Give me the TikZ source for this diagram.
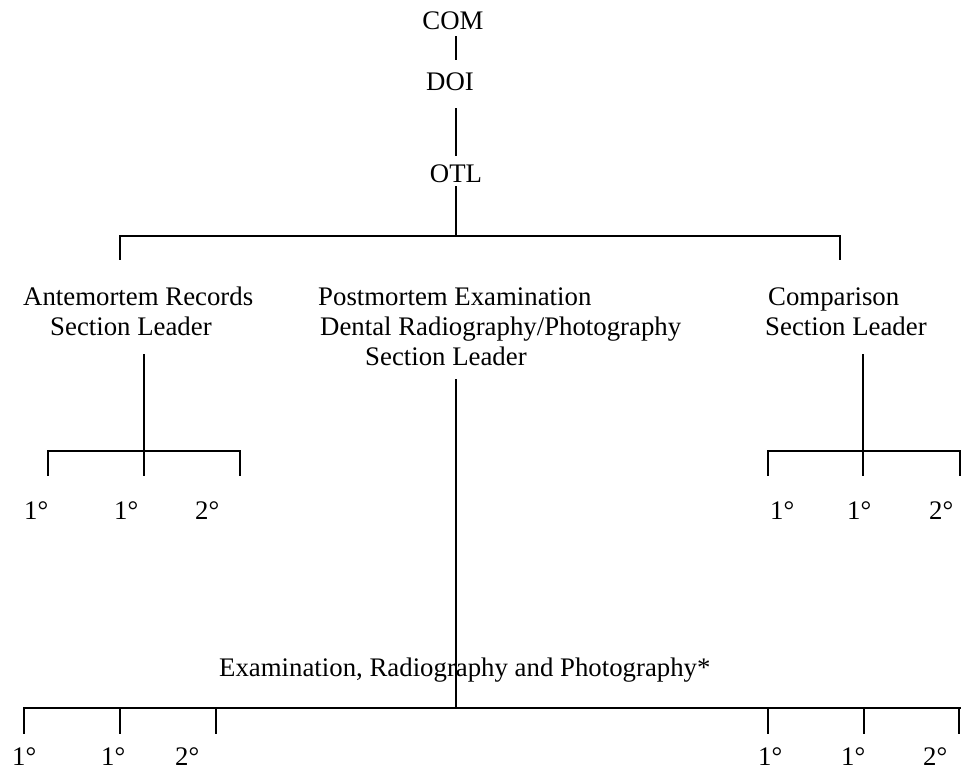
\documentclass[tikz,border=0pt]{standalone}
\usepackage{fontspec}
\setmainfont{Liberation Serif}
\begin{document}
\begin{tikzpicture}[x=1pt,y=-1pt,
  lbl/.style={inner sep=0pt,anchor=base west,font=\fontsize{26.8}{30}\selectfont},
  clbl/.style={inner sep=0pt,anchor=base,font=\fontsize{26.8}{30}\selectfont},
  conn/.style={line width=1.8pt,line cap=rect}]
\useasboundingbox[fill=white] (0,0) rectangle (961,771);

% top chain
\node[clbl] (com) at (453,29) {COM};
\node[clbl] (doi) at (450,90) {DOI};
\node[clbl] (otl) at (456,182) {OTL};

% section leaders
\node[lbl] (am1) at (23,305) {Antemortem Records};
\node[lbl] (am2) at (50,335) {Section Leader};
\node[lbl] (pm1) at (318,305) {Postmortem Examination};
\node[lbl] (pm2) at (320,335) {Dental Radiography/Photography};
\node[lbl] (pm3) at (365,365) {Section Leader};
\node[lbl] (cp1) at (768,305) {Comparison};
\node[lbl] (cp2) at (765,335) {Section Leader};

% subordinate labels
\node[lbl] (a1) at (24,519) {1°};
\node[lbl] (a2) at (114,519) {1°};
\node[lbl] (a3) at (195,519) {2°};
\node[lbl] (c1) at (770,519) {1°};
\node[lbl] (c2) at (847,519) {1°};
\node[lbl] (c3) at (929,519) {2°};

\node[lbl] (erp) at (219,676) {Examination, Radiography and Photography*};
\node[lbl] (b1) at (12,765) {1°};
\node[lbl] (b2) at (101,765) {1°};
\node[lbl] (b3) at (175,765) {2°};
\node[lbl] (b4) at (758,765) {1°};
\node[lbl] (b5) at (841,765) {1°};
\node[lbl] (b6) at (923,765) {2°};

% coordinates
\coordinate (comB) at (456,37);
\coordinate (doiT) at (456,59);
\coordinate (doiB) at (456,109);
\coordinate (otlT) at (456,155);
\coordinate (otlB) at (456,187);
\coordinate (barM) at (456,236);
\coordinate (barL) at (120,236);
\coordinate (barR) at (840,236);
\coordinate (dropL) at (120,259);
\coordinate (dropR) at (840,259);

\coordinate (amT) at (144,355);
\coordinate (amJ) at (144,451);
\coordinate (amL) at (48,451);
\coordinate (amR) at (240,451);
\coordinate (amLd) at (48,475);
\coordinate (amMd) at (144,475);
\coordinate (amRd) at (240,475);

\coordinate (cpT) at (863,355);
\coordinate (cpJ) at (863,451);
\coordinate (cpL) at (768,451);
\coordinate (cpR) at (960,451);
\coordinate (cpLd) at (768,475);
\coordinate (cpMd) at (863,475);
\coordinate (cpRd) at (960,475);

\coordinate (pmT) at (456,380);
\coordinate (pmJ) at (456,708);
\coordinate (bL) at (24,708);
\coordinate (bR) at (960,708);
\foreach \i/\x in {1/24,2/120,3/216,4/768,5/864,6/959}{
  \coordinate (bt\i) at (\x,708);
  \coordinate (bd\i) at (\x,733);
}

% connectors
\draw[conn] (comB) -- (doiT);
\draw[conn] (doiB) -- (otlT);
\draw[conn] (otlB) -- (barM);
\draw[conn] (dropL) -- (barL) -- (barR) -- (dropR);

\draw[conn] (amT) -- (amJ);
\draw[conn] (amLd) -- (amL) -- (amR) -- (amRd);
\draw[conn] (amJ) -- (amMd);

\draw[conn] (cpT) -- (cpJ);
\draw[conn] (cpLd) -- (cpL) -- (cpR) -- (cpRd);
\draw[conn] (cpJ) -- (cpMd);

\draw[conn] (pmT) -- (pmJ);
\draw[conn] (bL) -- (bR);
\foreach \i in {1,...,6}{ \draw[conn] (bt\i) -- (bd\i); }
\end{tikzpicture}
\end{document}
